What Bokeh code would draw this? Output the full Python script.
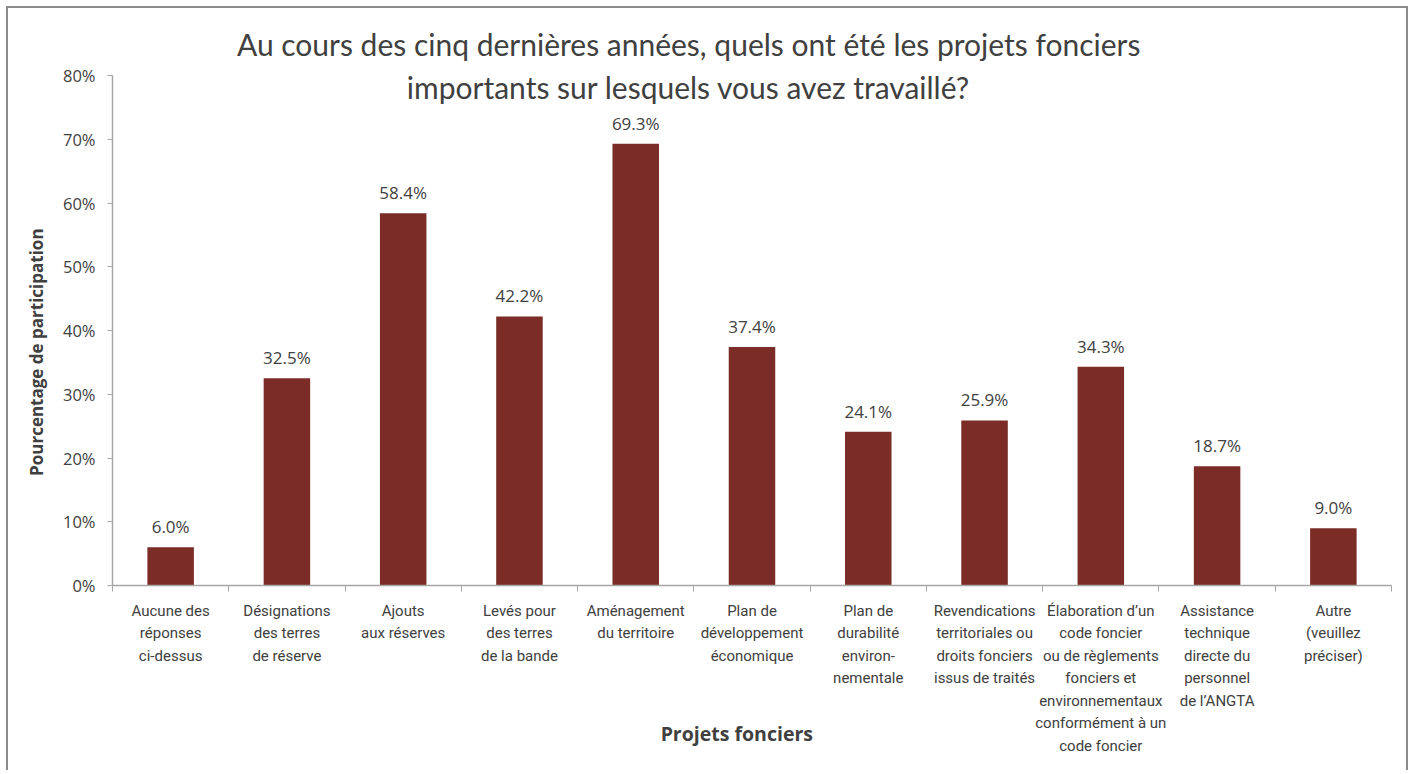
from bokeh.plotting import figure
from bokeh.models import (ColumnDataSource, FixedTicker, NumeralTickFormatter,
                          LabelSet, Label, Range1d)
from bokeh.core.properties import value
from bokeh.embed import file_html
from bokeh.resources import INLINE

categories = [
    "Aucune des\nréponses\nci-dessus",
    "Désignations\ndes terres\nde réserve",
    "Ajouts\naux réserves",
    "Levés pour\ndes terres\nde la bande",
    "Aménagement\ndu territoire",
    "Plan de\ndéveloppement\néconomique",
    "Plan de\ndurabilité\nenviron-\nnementale",
    "Revendications\nterritoriales ou\ndroits fonciers\nissus de traités",
    "Élaboration d’un\ncode foncier\nou de règlements\nfonciers et\nenvironnementaux\nconformément à un\ncode foncier",
    "Assistance\ntechnique\ndirecte du\npersonnel\nde l’ANGTA",
    "Autre\n(veuillez\npréciser)",
]
values = [6.0, 32.5, 58.4, 42.2, 69.3, 37.4, 24.1, 25.9, 34.3, 18.7, 9.0]
y_ticks = [0, 0.1, 0.2, 0.3, 0.4, 0.5, 0.6, 0.7, 0.8]
title_lines = ["Au cours des cinq dernières années, quels ont été les projets fonciers",
               "importants sur lesquels vous avez travaillé?"]
x_title = "Projets fonciers"
y_title = "Pourcentage de participation"

n = len(categories)
centers = [i + 0.5 for i in range(n)]
bounds = [float(i) for i in range(n + 1)]
fracs = [v / 100 for v in values]
labels = [f"{v:.1f}%" for v in values]
y_max = y_ticks[-1]

src = ColumnDataSource(dict(x=centers, top=fracs, lab=labels))

AX = "#A6A6A6"
TXT = "#404040"
NBSP = "\u00a0"

# layout (pixels inside the canvas)
W, H = 1402, 764
left, right = 104, 19
axis_top, axis_bottom = 67, 577          # where 80% and 0% sit
frame_top = 0                            # frame reaches canvas top (title inside)
y_end = y_max * (axis_bottom - frame_top) / (axis_bottom - axis_top)

p = figure(width=W, height=H, output_backend="svg", toolbar_location=None,
           x_range=Range1d(0, n), y_range=Range1d(0, y_end),
           min_border_left=left, min_border_right=right, min_border_top=frame_top,
           min_border_bottom=H - axis_bottom)
p.outline_line_color = None
p.background_fill_color = "white"
p.border_fill_color = "white"
p.xgrid.grid_line_color = None
p.ygrid.grid_line_color = None
p.styles = {"border-top": "2px solid #8c8c8c", "border-left": "2px solid #8c8c8c",
            "border-right": "2px solid #8c8c8c", "margin-left": "6px",
            "margin-top": "6px"}

p.vbar(x="x", top="top", width=0.4, bottom=0, source=src,
       fill_color="#7B2C26", line_color=None)

p.add_layout(LabelSet(x="x", y="top", text="lab", source=src, y_offset=9,
                      text_align="center", text_baseline="bottom",
                      text_font=value("Open Sans"), text_font_size="17px",
                      text_color=TXT))

# x axis
xa = p.xaxis[0]
xa.ticker = FixedTicker(ticks=centers, minor_ticks=bounds)
xa.major_label_overrides = {c: lab for c, lab in zip(centers, categories)}
xa.major_tick_line_color = None
xa.minor_tick_line_color = AX
xa.minor_tick_out = 6
xa.minor_tick_in = 0
xa.axis_line_color = AX
xa.axis_line_width = 1.5
xa.major_label_text_font = "Roboto"
xa.major_label_text_font_size = "15px"
xa.major_label_text_color = TXT
xa.major_label_text_line_height = 1.25
xa.major_label_standoff = 10
xa.axis_label = x_title + NBSP * 6
xa.axis_label_text_font = "Open Sans"
xa.axis_label_text_font_style = "bold"
xa.axis_label_text_font_size = "19.5px"
xa.axis_label_text_color = TXT
xa.axis_label_standoff = -38

# y axis
ya = p.yaxis[0]
ya.bounds = (0, y_max)
ya.ticker = FixedTicker(ticks=y_ticks)
ya.formatter = NumeralTickFormatter(format="0%")
ya.axis_line_color = AX
ya.axis_line_width = 1.5
ya.major_tick_line_color = AX
ya.major_tick_out = 5
ya.major_tick_in = 0
ya.minor_tick_line_color = None
ya.major_label_text_font = "Open Sans"
ya.major_label_text_font_size = "16.5px"
ya.major_label_text_color = TXT
ya.major_label_standoff = 12
ya.axis_label = y_title + NBSP * 25
ya.axis_label_text_font = "Open Sans"
ya.axis_label_text_font_style = "bold"
ya.axis_label_text_font_size = "17px"
ya.axis_label_text_color = TXT
ya.axis_label_standoff = 12

for line, yy in zip(title_lines, [0.850, 0.7826]):
    p.add_layout(Label(x=n * 0.4505, y=yy, text=line,
                       text_align="center", text_baseline="middle",
                       text_font="Lato", text_font_size="30px",
                       text_color=TXT))

open("out.html", "w").write(file_html(p, INLINE))
